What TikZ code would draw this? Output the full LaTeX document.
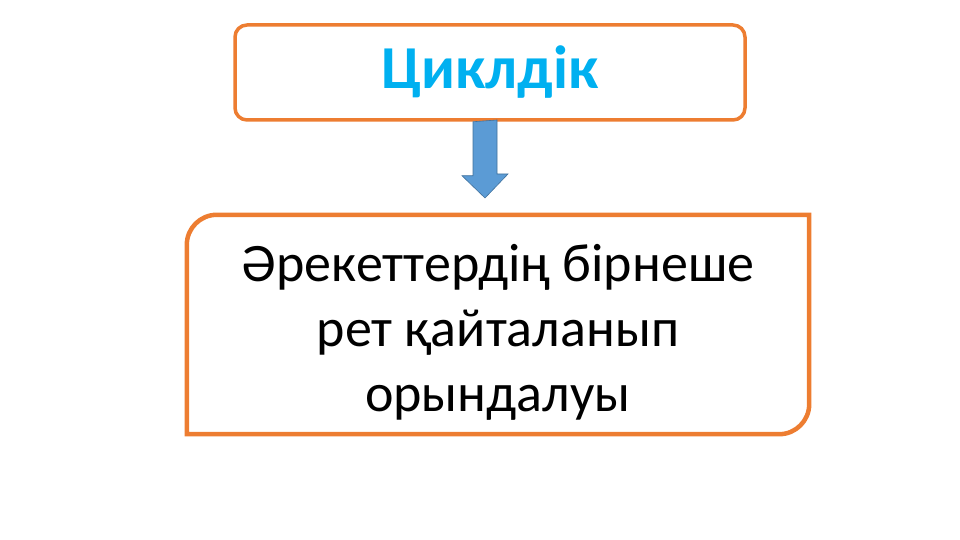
\documentclass[tikz,border=0pt]{standalone}
\usepackage{fontspec}
\setmainfont{Carlito}
\usetikzlibrary{calc}
\definecolor{boxorange}{HTML}{ED7D31}
\definecolor{arrowblue}{HTML}{5B9BD5}
\definecolor{arrowedge}{HTML}{41719C}
\definecolor{titleblue}{HTML}{00B0F0}
\begin{document}
\begin{tikzpicture}[x = 1pt, y = 1pt,
                        titlebox/.style = {draw = boxorange, line width = 3.5pt, rounded corners = 12pt, minimum width = 510pt, minimum height = 95pt, inner sep = 0pt,
                                           font = \fontsize{61}{72}\selectfont\bfseries, text = titleblue},
                        framebox/.style = {minimum width = 622pt, minimum height = 219pt, inner sep = 0pt},
                        bodytext/.style = {inner sep = 0pt, align = center, font = \fontsize{54}{65}\selectfont}]
    \useasboundingbox (0, 0) rectangle (960, 540);
    \node [titlebox] (title) at (490, 467.5){Циклдік};
    \node [framebox] (frame) at (498, 215.5){};
    \node [bodytext] (body) at ($(frame.center) + (0, -8)$){Әрекеттердің бірнеше\\рет қайталанып\\орындалуы};
    \draw [boxorange, line width = 4.5pt] (frame.south west) -- ($(frame.north west) + (0, -30)$)
        arc [start angle = 180, end angle = 90, radius = 30] -- (frame.north east)
        -- ($(frame.south east) + (0, 30)$) arc [start angle = 0, end angle = -90, radius = 30] -- cycle;
    \coordinate (tip) at (485, 342);
    \draw [fill = arrowblue, draw = arrowedge, line width = 0.6pt] (title.south -| tip) ++(-12, 0) -- ++(0, -54) -- ++(-11, 0)
        -- (tip) -- ++(23, 24) -- ++(-11, 0) -- ++(0, 54) -- cycle;
  \end{tikzpicture}
\end{document}
